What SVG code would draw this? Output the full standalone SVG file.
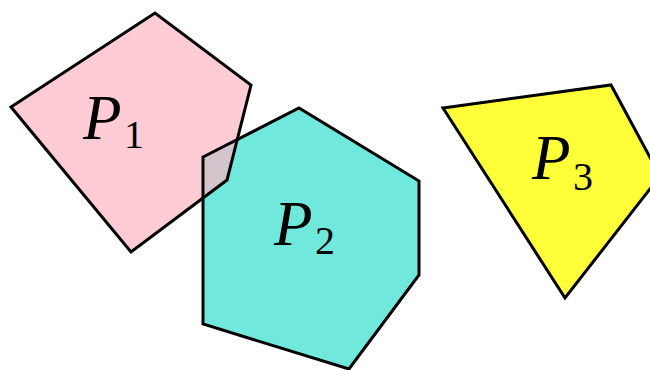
<svg xmlns="http://www.w3.org/2000/svg" width="650" height="370" viewBox="0 0 650 370">
<style>
.edge{stroke:#000;stroke-width:3;stroke-linejoin:miter;fill:none}
.lbl{font-family:"Liberation Serif","DejaVu Serif",serif;font-style:italic;font-size:63px;fill:#000}
.sub{font-family:"Liberation Serif","DejaVu Serif",serif;font-style:normal;font-size:40px}
</style>
<defs>
<polygon id="hex" points="203,157 299,108 419,181 419,275 349,369 203,324"/>
</defs>
<rect width="650" height="370" fill="#fff"/>
<g id="P2">
<use href="#hex" fill="#70e8dc" stroke="none"/>
<text class="lbl" x="274" y="245">P<tspan class="sub" x="315" y="254">2</tspan></text>
</g>
<g id="P1">
<polygon points="11,107 155,13 251,85 227,180 131,252" fill="#ffb7c4" fill-opacity="0.7" class="edge" style="fill:#ffb7c4"/>
<text class="lbl" x="83" y="139">P<tspan class="sub" x="124" y="148">1</tspan></text>
</g>
<g id="P2-outline">
<use href="#hex" class="edge"/>
</g>
<g id="P3">
<polygon points="443,108 611,85 660,176 565,298" fill="#ffff3a" class="edge" style="fill:#ffff3a"/>
<text class="lbl" x="532" y="179">P<tspan class="sub" x="573" y="190">3</tspan></text>
</g>
<g id="connectors"/>
</svg>
